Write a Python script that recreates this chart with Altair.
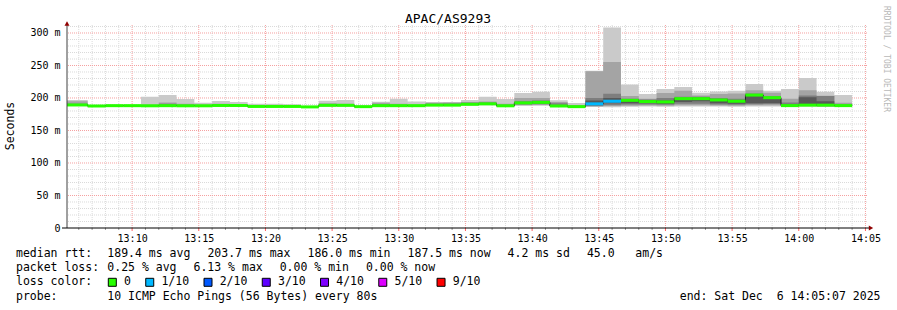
import altair as alt
import pandas as pd

# ---------------- data ----------------
TITLE = "APAC/AS9293"
Y_LABEL = "Seconds"
WATERMARK = "RRDTOOL / TOBI OETIKER"

# time axis in minutes after 13:00
X_START = 5 + 7 / 60      # 13:05:07
X_END = 65 + 7 / 60       # 14:05:07
LAST_BUCKET_END = 64.0    # 14:04:00
STEP_MIN = 80 / 60        # one probe round = 80 s
Y_TOP = 312.3             # ms

X_TICKS = [10, 15, 20, 25, 30, 35, 40, 45, 50, 55, 60, 65]
Y_TICKS = [0, 50, 100, 150, 200, 250, 300]

# sorted ping percentiles per 80 s bucket (ms)
PING_MIN = [187.5, 186.5, 187.0, 187.0, 186.8, 186.8, 186.8, 186.8, 187.0, 187.0, 185.8, 185.8, 185.8, 185.3, 187.0,
            187.0, 185.5, 186.8, 186.8, 186.8, 187.5, 187.5, 188.5, 189.0, 186.5, 188.0, 188.0, 186.0, 185.3, 186.0,
            185.6, 186.5, 187.0, 186.5, 187.0, 187.0, 187.0, 186.5, 187.0, 187.0, 186.5, 187.0, 186.5, 186.5]
P2 = [188.0, 187.0, 187.3, 187.3, 187.2, 187.2, 187.2, 187.2, 187.4, 187.4, 186.2, 186.2, 186.2, 185.6, 187.4,
      187.4, 185.8, 187.2, 187.2, 187.2, 187.9, 187.9, 188.9, 189.5, 186.8, 189.0, 189.5, 186.5, 185.6, 187.0,
      188.0, 188.0, 188.5, 188.0, 189.0, 189.0, 188.5, 188.0, 189.0, 189.0, 187.0, 188.0, 187.0, 187.0]
P3 = [188.5, 187.0, 187.6, 187.6, 187.5, 187.5, 187.5, 187.5, 187.8, 187.8, 186.5, 186.5, 186.5, 185.8, 187.8,
      187.8, 186.1, 187.5, 187.5, 187.5, 188.2, 188.2, 189.3, 190.0, 187.2, 190.0, 190.5, 186.8, 185.9, 188.0,
      189.0, 190.0, 190.0, 189.5, 191.0, 191.0, 190.0, 189.5, 190.5, 191.0, 187.5, 188.5, 187.5, 187.3]
P4 = [189.0, 187.3, 187.8, 187.8, 187.8, 187.8, 187.8, 187.8, 188.1, 188.1, 186.8, 186.8, 186.8, 186.0, 188.2,
      188.2, 186.4, 187.8, 187.8, 187.8, 188.6, 188.6, 189.8, 190.5, 187.6, 191.0, 191.5, 187.2, 186.2, 189.0,
      192.0, 192.0, 192.0, 191.0, 194.0, 195.0, 192.0, 191.0, 192.0, 192.0, 188.0, 189.5, 188.0, 187.7]
MEDIAN = [189.3, 187.7, 188.2, 188.2, 188.0, 188.2, 188.0, 188.0, 188.5, 188.5, 187.0, 187.0, 187.0, 186.3, 188.7,
          188.7, 186.7, 188.2, 188.2, 188.2, 189.0, 189.0, 190.3, 191.0, 188.0, 192.5, 193.3, 187.7, 186.7, 191.0,
          195.0, 196.4, 194.5, 194.0, 199.0, 199.0, 197.0, 195.0, 204.5, 200.5, 188.3, 189.0, 189.0, 188.3]
P7 = [190.0, 188.0, 188.5, 188.5, 188.4, 189.0, 188.5, 188.4, 189.0, 189.0, 187.4, 187.4, 187.4, 186.6, 189.5,
      189.2, 187.0, 189.0, 188.8, 188.6, 189.8, 190.0, 191.0, 191.8, 188.6, 193.5, 194.5, 189.0, 187.2, 196.0,
      200.0, 198.0, 196.5, 196.0, 200.0, 200.5, 198.0, 196.5, 205.5, 201.5, 190.0, 201.0, 195.0, 189.0]
P8 = [191.0, 188.3, 188.8, 188.8, 189.0, 191.0, 189.5, 189.0, 189.8, 189.5, 188.0, 188.0, 187.8, 186.9, 190.5,
      190.0, 187.3, 190.5, 189.8, 189.2, 191.0, 191.5, 192.5, 193.0, 189.5, 195.0, 196.0, 192.0, 188.0, 200.0,
      206.7, 199.0, 197.5, 200.0, 202.0, 202.0, 200.0, 199.0, 207.0, 203.0, 193.0, 204.0, 203.0, 190.0]
P9 = [195.0, 188.7, 189.2, 189.2, 190.0, 193.0, 191.0, 190.0, 191.0, 190.5, 189.0, 189.0, 188.5, 187.2, 192.0,
      191.0, 187.7, 192.5, 191.0, 190.0, 192.5, 193.0, 194.0, 194.5, 191.0, 200.0, 200.0, 194.0, 189.0, 241.0,
      255.4, 203.0, 199.0, 207.5, 211.0, 204.0, 206.0, 207.0, 212.0, 208.0, 199.0, 212.0, 203.5, 192.5]
PING_MAX = [197.0, 189.0, 189.6, 189.6, 201.8, 204.6, 198.5, 192.8, 195.4, 193.8, 191.3, 191.0, 190.5, 187.6, 195.8,
            197.0, 188.2, 194.2, 198.8, 194.6, 193.8, 194.0, 197.0, 201.8, 198.3, 207.8, 209.7, 196.5, 192.3, 241.8,
            308.3, 220.8, 206.0, 213.9, 217.0, 208.0, 210.0, 211.0, 221.5, 211.0, 214.0, 230.8, 209.7, 204.6]
LOSS = [0, 0, 0, 0, 0, 0, 0, 0, 0, 0, 0, 0, 0, 0, 0, 0, 0, 0, 0, 0, 0, 0,
        0, 0, 0, 0, 0, 0, 0, 1, 1, 0, 0, 0, 0, 0, 0, 0, 0, 0, 0, 0, 0, 0]

LOSS_LEVELS = [0, 1, 2, 3, 4, 5, 9]
LOSS_LABELS = ["0", "1/10", "2/10", "3/10", "4/10", "5/10", "9/10"]
LOSS_COLORS = ["#26ff00", "#00b8ff", "#0059ff", "#5e00ff", "#7e00ff", "#dd00ff", "#ff0000"]
SMOKE_COLORS = ["#cacaca", "#a4a4a4", "#7e7e7e", "#585858"]

ROW_LABELS = ["median rtt:", "packet loss:", "loss color:", "probe:"]
RTT_STATS = ["189.4 ms avg", "203.7 ms max", "186.0 ms min", "187.5 ms now", "4.2 ms sd", "45.0   am/s"]
LOSS_STATS = ["0.25 % avg", "6.13 % max", "0.00 % min", "0.00 % now"]
PROBE_TEXT = "10 ICMP Echo Pings (56 Bytes) every 80s"
END_TEXT = "end: Sat Dec  6 14:05:07 2025"

# ---------------- layout constants ----------------
W, H = 800, 203
PAD_L, PAD_T = 67, 25
MONO = "DejaVu Sans Mono"
CW = 6.94        # char width of legend font
LEG_FS = 11.5

n = len(MEDIAN)
starts = [LAST_BUCKET_END - STEP_MIN * (n - k) for k in range(n)]
starts[0] = X_START
ends = [LAST_BUCKET_END - STEP_MIN * (n - 1 - k) for k in range(n)]

buckets = pd.DataFrame({"start": starts, "end": ends, "median": MEDIAN, "loss": LOSS})

bands = [(PING_MIN, PING_MAX), (P2, P9), (P3, P8), (P4, P7)]

XS = alt.Scale(domain=[X_START, X_END], nice=False, zero=False)
YS = alt.Scale(domain=[0, Y_TOP], nice=False, zero=True)

AX_X = alt.Axis(values=X_TICKS, grid=False, domain=False, ticks=False, title=None,
                labelExpr="(13 + floor(datum.value / 60)) + ':' + (datum.value % 60 < 10 ? '0' : '') + (datum.value % 60)",
                labelFont=MONO, labelFontSize=10, labelColor="#000", labelPadding=5,
                labelFlush=False, labelOverlap=False)
AX_Y = alt.Axis(values=Y_TICKS, grid=False, domain=False, ticks=False, title=None,
                labelExpr="datum.value == 0 ? '0\u00a0\u00a0' : datum.value + '\u00a0m'",
                labelFont=MONO, labelFontSize=10, labelColor="#000", labelPadding=7)


def xq(f):
    return alt.X(f"{f}:Q", scale=XS, axis=AX_X)


def yq(f):
    return alt.Y(f"{f}:Q", scale=YS, axis=AX_Y)


layers = []

# grid
minor_x = [m for m in range(6, 66) if m % 5 != 0]
minor_y = [v for v in range(10, 311, 10) if v % 50 != 0]
major_x = X_TICKS
major_y = Y_TICKS[1:]
layers.append(alt.Chart(pd.DataFrame({"v": minor_x})).mark_rule(color="#dadada", strokeDash=[1, 1], strokeWidth=1).encode(x=xq("v")))
layers.append(alt.Chart(pd.DataFrame({"v": minor_y})).mark_rule(color="#dadada", strokeDash=[1, 1], strokeWidth=1).encode(y=yq("v")))
layers.append(alt.Chart(pd.DataFrame({"v": major_x})).mark_rule(color="#f5a0a0", strokeDash=[1, 1], strokeWidth=1).encode(x=xq("v")))
layers.append(alt.Chart(pd.DataFrame({"v": major_y})).mark_rule(color="#f5a0a0", strokeDash=[1, 1], strokeWidth=1).encode(y=yq("v")))

# smoke
for (lo, hi), col in zip(bands, SMOKE_COLORS):
    df = pd.DataFrame({"x": starts + [ends[-1]], "lo": list(lo) + [lo[-1]], "hi": list(hi) + [hi[-1]]})
    layers.append(alt.Chart(df).mark_area(interpolate="step-after", color=col, opacity=1)
                  .encode(x=xq("x"), y=yq("lo"), y2="hi"))

# median step line
med_df = pd.DataFrame({"x": starts + [ends[-1]], "m": MEDIAN + [MEDIAN[-1]]})
layers.append(alt.Chart(med_df).mark_line(interpolate="step-after", color="#202020", strokeWidth=1)
              .encode(x=xq("x"), y=yq("m")))

# median coloured by loss
layers.append(alt.Chart(buckets).mark_rule(strokeWidth=3, strokeCap="butt").encode(
    x=xq("start"), x2="end", y=yq("median"),
    color=alt.Color("loss:O", scale=alt.Scale(domain=LOSS_LEVELS, range=LOSS_COLORS), legend=None)))

# x-axis ticks
layers.append(alt.Chart(pd.DataFrame({"v": minor_x})).mark_rule(color="#999999", strokeWidth=1)
              .encode(x=xq("v"), y=alt.value(H), y2=alt.value(H + 2)))
layers.append(alt.Chart(pd.DataFrame({"v": major_x})).mark_rule(color="#ff6060", strokeWidth=1)
              .encode(x=xq("v"), y=alt.value(H), y2=alt.value(H + 3)))

dummy = pd.DataFrame({"a": [0]})
# axis lines
layers.append(alt.Chart(dummy).mark_rule(color="#404040", strokeWidth=1)
              .encode(x=alt.value(0), y=alt.value(-1), y2=alt.value(H)))
layers.append(alt.Chart(dummy).mark_rule(color="#000000", strokeWidth=1)
              .encode(x=alt.value(-5), x2=alt.value(W + 4), y=alt.value(H)))
# arrows
layers.append(alt.Chart(dummy).mark_point(shape="triangle-up", filled=True, size=25, color="#900000", opacity=1)
              .encode(x=alt.value(0), y=alt.value(-1.5)))
layers.append(alt.Chart(dummy).mark_point(shape="triangle-right", filled=True, size=25, color="#900000", opacity=1)
              .encode(x=alt.value(W + 4), y=alt.value(H)))


def txt(s, x, y, align="left", size=LEG_FS, color="#000000", angle=0):
    d = pd.DataFrame({"t": [s.replace(" ", "\u00a0")]})
    return alt.Chart(d).mark_text(align=align, baseline="middle", font=MONO, fontSize=size,
                                  color=color, angle=angle).encode(
        x=alt.value(x), y=alt.value(y), text="t:N")


# title, y label, watermark
layers.append(txt(TITLE, 448 - PAD_L, 19 - PAD_T, align="center", size=13))
layers.append(txt(Y_LABEL, 11 - PAD_L, 126 - PAD_T, align="center", size=11.5, angle=270))
layers.append(txt(WATERMARK, 886 - PAD_L, 59 - PAD_T, align="center", size=8, color="#b8b8b8", angle=90))

# legend
ROW_Y = [254.3, 268.3, 282.3, 296.5]
COL0 = 16
COL1 = 107.3
GAP = 16.8
for lab, ry in zip(ROW_LABELS, ROW_Y):
    layers.append(txt(lab, COL0 - PAD_L, ry - PAD_T))

x = COL1
for s in RTT_STATS:
    layers.append(txt(s, x - PAD_L, ROW_Y[0] - PAD_T))
    x += len(s) * CW + GAP
x = COL1
for s in LOSS_STATS:
    layers.append(txt(s, x - PAD_L, ROW_Y[1] - PAD_T))
    x += len(s) * CW + GAP

sx = 108.3
for lab, col in zip(LOSS_LABELS, LOSS_COLORS):
    y0 = ROW_Y[2] - 4 - PAD_T
    layers.append(alt.Chart(dummy).mark_rect(fill=col, stroke="#000000", strokeWidth=1).encode(
        x=alt.value(sx - PAD_L), x2=alt.value(sx + 8 - PAD_L), y=alt.value(y0), y2=alt.value(y0 + 8)))
    lx = sx + 15.7
    layers.append(txt(lab, lx - PAD_L, ROW_Y[2] - PAD_T))
    sx = lx + len(lab) * CW + 14.8

layers.append(txt(PROBE_TEXT, COL1 - PAD_L, ROW_Y[3] - PAD_T))
layers.append(txt(END_TEXT, 880.5 - PAD_L, ROW_Y[3] - PAD_T, align="right"))

chart = alt.layer(*layers).properties(
    width=W, height=H,
    padding={"left": PAD_L, "top": PAD_T, "right": 897 - PAD_L - W, "bottom": 310 - PAD_T - H},
    autosize=alt.AutoSizeParams(type="none"),
    background="white",
).configure_view(strokeWidth=0)

chart.save("out.html", embed_options={"renderer": "svg", "actions": False})
